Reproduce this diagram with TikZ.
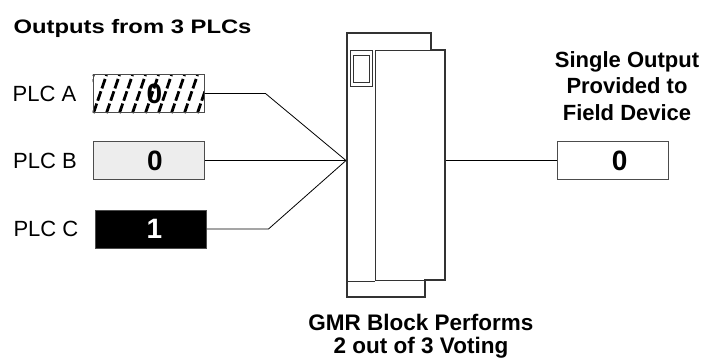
\documentclass[tikz,border=0pt]{standalone}
\usepackage{fontspec}
\setmainfont{Liberation Sans}
\usepackage{graphicx}
\usetikzlibrary{positioning}

\begin{document}
\begin{tikzpicture}[x=1pt, y=-1pt,
    box/.style={rectangle, draw=black!70, line width=1pt, minimum width=111pt, minimum height=38pt, inner sep=0pt},
    bit/.style={font=\fontsize{28}{28}\selectfont\bfseries, inner sep=0pt},
    tag/.style={font=\fontsize{22}{22}\selectfont, inner sep=0pt},
    head/.style={font=\fontsize{22}{26.7}\selectfont\bfseries, align=center, inner sep=0pt},
    part/.style={draw=black!80, line width=1.1pt},
    wire/.style={draw, line width=0.8pt}]
  \useasboundingbox (0,0) rectangle (707,360);
  % headings
  \node[font=\fontsize{19.5}{19.5}\selectfont\bfseries, anchor=base, inner sep=0pt] (title) at (132.5,33.3) {\scalebox{1.22}[1]{Outputs from 3 PLCs}};
  \node[head, anchor=north] (single) at (627,51) {Single Output\\Provided to\\Field Device};
  \node[head, anchor=north, font=\fontsize{22.5}{22.6}\selectfont\bfseries] (caption) at (421,314) {GMR Block Performs\\2 out of 3 Voting};
  % the three PLC outputs
  \node[box, fill=white] (plcA) at (148.5,93.5) {};
  \node[box, fill=black!7] (plcB) at (149,160.5) {};
  \node[box, fill=black] (plcC) at (150.5,229) {};
  \begin{scope}
    \clip (plcA.south west) rectangle (plcA.north east);
    \foreach \i in {0,...,10}
      \draw[line width=2.8pt, dash pattern=on 10pt off 3pt] ([xshift=\i*13pt-12pt]plcA.south west) -- ++(13,-38);
  \end{scope}
  \node[box] at (plcA) {};
  \node[bit] (bitA) at ([xshift=6pt]plcA.center) {0};
  \node[bit] (bitB) at ([xshift=6pt]plcB.center) {0};
  \node[bit, text=white] (bitC) at ([xshift=4pt]plcC.center) {1};
  \node[tag, left=16pt of plcA] (tagA) {PLC A};
  \node[tag, left=16pt of plcB] (tagB) {PLC B};
  \node[tag, left=16pt of plcC] (tagC) {PLC C};
  % GMR block
  \draw[part] (347,33) -| (431,50) -| (445,280) -| (425,297) -| cycle;
  \node[part, rectangle, inner sep=0pt, anchor=north west, minimum width=70pt, minimum height=230pt] (body) at (375,50) {};
  \draw[part] (body.south west) -- ++(-28,0);
  \node[part, rectangle, inner sep=0pt, anchor=north west, minimum width=22pt, minimum height=36pt] (window) at (350,50) {};
  \node[part, rectangle, inner sep=0pt, minimum width=16pt, minimum height=27pt] (pane) at (window) {};
  \coordinate (vote) at (346,160.5);
  % output
  \node[box] (out) at (612.7,160.5) {};
  \node[bit] (bitOut) at ([xshift=7pt]out.center) {0};
  % wiring
  \draw[wire] (plcA.east) -- ++(61,0) -- (vote);
  \draw[wire] (plcB.east) -- (vote);
  \draw[wire] (plcC.east) -- ++(62,0) -- (vote);
  \draw[wire] (out.west -| body.east) -- (out.west);
\end{tikzpicture}
\end{document}
